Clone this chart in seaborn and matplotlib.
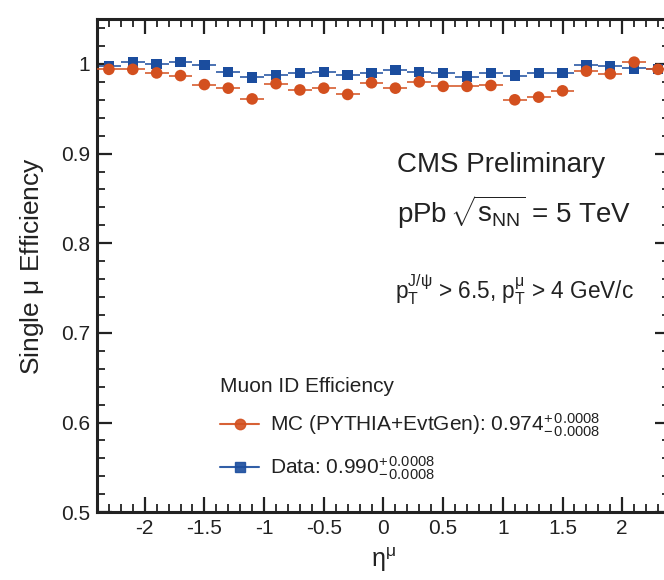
import numpy as np
import pandas as pd
import matplotlib
matplotlib.use("Agg")
import matplotlib.pyplot as plt
from matplotlib.lines import Line2D
from matplotlib.ticker import MultipleLocator
import seaborn as sns

# Pseudorapidity bins (width 0.2) and single-muon ID efficiencies
eta_centers = [-2.3, -2.1, -1.9, -1.7, -1.5, -1.3, -1.1, -0.9, -0.7, -0.5, -0.3, -0.1,
               0.1, 0.3, 0.5, 0.7, 0.9, 1.1, 1.3, 1.5, 1.7, 1.9, 2.1, 2.3]
eff_data = [0.998, 1.002, 1.000, 1.002, 0.999, 0.991, 0.985, 0.988, 0.990, 0.991, 0.988, 0.990,
            0.993, 0.991, 0.990, 0.986, 0.990, 0.987, 0.990, 0.990, 0.999, 0.998, 0.995, 0.994]
eff_mc = [0.994, 0.994, 0.990, 0.987, 0.977, 0.973, 0.961, 0.978, 0.971, 0.973, 0.966, 0.979,
          0.973, 0.980, 0.975, 0.975, 0.976, 0.960, 0.963, 0.970, 0.992, 0.989, 1.002, 0.994]
bin_halfwidth = 0.1
stat_err = 0.002

mc_label = r"MC (PYTHIA+EvtGen): 0.974$^{+\,0.0008}_{-\,0.0008}$"
data_label = r"Data: 0.990$^{+\,0.0008}_{-\,0.0008}$"

sns.set_theme(style="ticks")
plt.rcParams["font.family"] = ["Liberation Sans", "DejaVu Sans"]
plt.rcParams["mathtext.fontset"] = "custom"
plt.rcParams["mathtext.rm"] = "Liberation Sans"
plt.rcParams["mathtext.it"] = "Liberation Sans"
plt.rcParams["mathtext.bf"] = "Liberation Sans:bold"
plt.rcParams["mathtext.default"] = "regular"

red = "#d3501f"
blue = "#1b4d9e"
ink = "#222222"

df = pd.DataFrame({
    "eta": eta_centers * 2,
    "eff": eff_data + eff_mc,
    "sample": ["Data"] * len(eta_centers) + ["MC"] * len(eta_centers),
})

fig = plt.figure(figsize=(6.64, 5.80), dpi=100)
ax = fig.add_axes([0.146, 0.117, 0.863, 0.850])

# error bars: horizontal = bin width, vertical = statistical
ax.errorbar(eta_centers, eff_data, xerr=bin_halfwidth, yerr=stat_err, fmt="none",
            ecolor=blue, elinewidth=1.3, alpha=0.85, zorder=2)
ax.errorbar(eta_centers, eff_mc, xerr=bin_halfwidth, yerr=stat_err, fmt="none",
            ecolor=red, elinewidth=1.3, alpha=0.85, zorder=3)

sns.scatterplot(data=df[df["sample"] == "Data"], x="eta", y="eff", marker="s", s=55,
                color=blue, edgecolor="none", ax=ax, zorder=4, legend=False)
sns.scatterplot(data=df[df["sample"] == "MC"], x="eta", y="eff", marker="o", s=70,
                color=red, edgecolor="none", ax=ax, zorder=5, legend=False)

ax.set_xlim(-2.4, 2.4)
ax.set_ylim(0.5, 1.05)

ax.xaxis.set_minor_locator(MultipleLocator(0.1))
ax.yaxis.set_minor_locator(MultipleLocator(0.02))
ax.set_xticks([-2, -1.5, -1, -0.5, 0, 0.5, 1, 1.5, 2])
ax.set_xticklabels(["-2", "-1.5", "-1", "-0.5", "0", "0.5", "1", "1.5", "2"])
ax.set_yticks([0.5, 0.6, 0.7, 0.8, 0.9, 1.0])
ax.set_yticklabels(["0.5", "0.6", "0.7", "0.8", "0.9", "1"])

ax.tick_params(which="both", direction="in", top=True, right=True, color=ink,
               labelsize=15, labelcolor=ink)
ax.tick_params(which="major", length=11, width=1.6, pad=5)
ax.tick_params(which="minor", length=5.5, width=1.3)
for sp in ax.spines.values():
    sp.set_linewidth(2.2)
    sp.set_color(ink)

ax.set_xlabel(r"$\eta^{\mu}$", fontsize=18, color=ink)
ax.xaxis.set_label_coords(0.5, -0.068)
ax.set_ylabel(r"Single $\mu$ Efficiency", fontsize=19, color=ink)
ax.yaxis.set_label_coords(-0.089, 0.5)

# annotation texts, placed in pixel coordinates from the top-left corner
notes = [
    (397, 165, "CMS Preliminary", 20),
    (397, 212, r"pPb$\,\sqrt{s_{NN}}$ = 5 TeV", 20),
    (395, 290, r"p$_T^{J/\psi}$ > 6.5, p$_T^{\mu}$ > 4 GeV/c", 16.3),
]
for x, y, s, fs in notes:
    ax.text(x, 580 - y, s, transform=None, fontsize=fs, color=ink,
            va="center", ha="left")

handles = [
    Line2D([], [], color=red, marker="o", markersize=7.5, lw=1.5, alpha=0.9),
    Line2D([], [], color=blue, marker="s", markersize=6.5, lw=1.5, alpha=0.9),
]
leg = ax.legend(handles, [mc_label, data_label], title="Muon ID Efficiency",
                loc="lower left", bbox_to_anchor=(0.189, 0.032), frameon=False,
                fontsize=15, title_fontsize=15, handlelength=1.9,
                handletextpad=0.5, labelspacing=0.75, borderpad=0.2)
leg._legend_box.align = "left"
for txt in leg.get_texts():
    txt.set_color(ink)
leg.get_title().set_color(ink)

fig.savefig("out.png", dpi=100)
